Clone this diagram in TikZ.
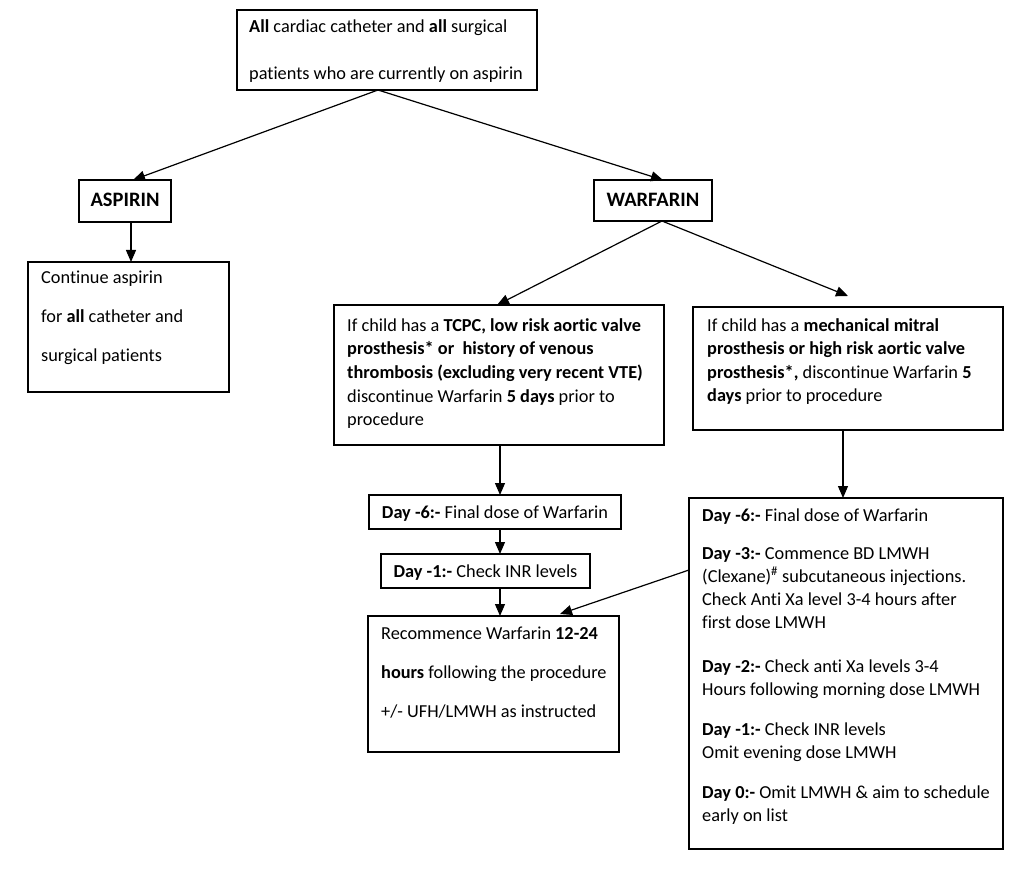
\documentclass[tikz,border=0pt]{standalone}
\usepackage{fontspec}
\setmainfont{Carlito}[Ligatures={CommonOff,ContextualOff}]
\usetikzlibrary{arrows.meta}
\begin{document}
\begin{tikzpicture}[x=1pt,y=-1pt,
  box/.style={draw, line width=1.6pt, inner sep=0pt, outer sep=0pt, anchor=north west},
  txt/.style={anchor=base west, inner sep=0pt, font=\fontsize{18.3}{23}\selectfont},
  ctxt/.style={anchor=base, inner sep=0pt, font=\fontsize{18.3}{23}\selectfont},
  htxt/.style={anchor=base, inner sep=0pt, font=\fontsize{20.5}{24}\selectfont\bfseries},
  arr/.style={line width=1.2pt, -{Triangle[length=12pt,width=10pt]}}]
\useasboundingbox (0,0) rectangle (1012,869);
% boxes
\node[box, minimum width=300pt, minimum height=80pt] (top) at (237,10) {};
\node[box, minimum width=92pt, minimum height=42pt] (asp) at (79,180) {};
\node[box, minimum width=118pt, minimum height=41pt] (war) at (594,180) {};
\node[box, minimum width=201pt, minimum height=130pt] (cont) at (28,262) {};
\node[box, minimum width=330pt, minimum height=140pt] (tcpc) at (334,305) {};
\node[box, minimum width=310pt, minimum height=123pt] (mech) at (693,307) {};
\node[box, minimum width=252pt, minimum height=34pt] (d6) at (369,495) {};
\node[box, minimum width=209pt, minimum height=34pt] (d1) at (381,554) {};
\node[box, minimum width=251pt, minimum height=136pt] (rec) at (368,616) {};
\node[box, minimum width=314pt, minimum height=351pt] (right) at (689,498) {};
% texts
\node[txt] (top1) at (249,33) {\textbf{All} cardiac catheter and \textbf{all} surgical};
\node[txt] (top2) at (249,80) {patients who are currently on aspirin};
\node[htxt] (aspt) at (125,207) {ASPIRIN};
\node[htxt] (wart) at (653,207) {WARFARIN};
\node[txt] (c1) at (41,283) {Continue aspirin};
\node[txt] (c2) at (41,322) {for \textbf{all} catheter and};
\node[txt] (c3) at (41,361) {surgical patients};
\node[txt] (p1) at (347,331) {If child has a \textbf{TCPC, low risk aortic valve}};
\node[txt] (p2) at (347,354) {\textbf{prosthesis* or\ \ history of venous}};
\node[txt] (p3) at (347,378) {\textbf{thrombosis (excluding very recent VTE)}};
\node[txt] (p4) at (347,402) {discontinue Warfarin \textbf{5 days} prior to};
\node[txt] (p5) at (347,425) {procedure};
\node[txt] (m1) at (707,331) {If child has a \textbf{mechanical mitral}};
\node[txt] (m2) at (707,354) {\textbf{prosthesis or high risk aortic valve}};
\node[txt] (m3) at (707,378) {\textbf{prosthesis*,} discontinue Warfarin \textbf{5}};
\node[txt] (m4) at (707,401) {\textbf{days} prior to procedure};
\node[ctxt] (d6t) at (495,518) {\textbf{Day -6:-} Final dose of Warfarin};
\node[ctxt] (d1t) at (485.5,577) {\textbf{Day -1:-} Check INR levels};
\node[txt] (r1) at (381,639) {Recommence Warfarin \textbf{12-24}};
\node[txt] (r2) at (381,678) {\textbf{hours} following the procedure};
\node[txt] (r3) at (381,717) {+/- UFH/LMWH as instructed};
\node[txt] (s1) at (702,521) {\textbf{Day -6:-} Final dose of Warfarin};
\node[txt] (s2) at (702,559) {\textbf{Day -3:-} Commence BD LMWH};
\node[txt] (s3) at (702,582) {(Clexane)\textsuperscript{\#} subcutaneous injections.};
\node[txt] (s4) at (702,605) {Check Anti Xa level 3-4 hours after};
\node[txt] (s5) at (702,628) {first dose LMWH};
\node[txt] (s6) at (702,672) {\textbf{Day -2:-} Check anti Xa levels 3-4};
\node[txt] (s7) at (702,695) {Hours following morning dose LMWH};
\node[txt] (s8) at (702,735) {\textbf{Day -1:-} Check INR levels};
\node[txt] (s9) at (702,758) {Omit evening dose LMWH};
\node[txt] (s10) at (702,798) {\textbf{Day 0:-} Omit LMWH \& aim to schedule};
\node[txt] (s11) at (702,821) {early on list};
% arrows
\draw[arr] ([xshift=-9pt]top.south) -- ([xshift=8pt]asp.north);
\draw[arr] ([xshift=-9pt]top.south) -- ([xshift=10pt]war.north);
\draw[arr] ([xshift=6pt]asp.south) -- ([xshift=2.5pt]cont.north);
\draw[arr] ([xshift=9pt]war.south) -- ([xshift=-2pt]tcpc.north);
\draw[arr] ([xshift=9pt]war.south) -- ([yshift=11pt]mech.north);
\draw[arr] ([xshift=1pt]tcpc.south) -- ([xshift=5pt]d6.north);
\draw[arr] ([xshift=5pt]d6.south) -- ([xshift=14.5pt]d1.north);
\draw[arr] ([xshift=14.5pt]d1.south) -- ([xshift=6.5pt]rec.north);
\draw[arr] ([xshift=-5pt]mech.south) -- ([xshift=-3pt]right.north);
\draw[arr] ([yshift=103.5pt]right.west) -- ([xshift=66.5pt,yshift=2pt]rec.north);
\end{tikzpicture}
\end{document}
